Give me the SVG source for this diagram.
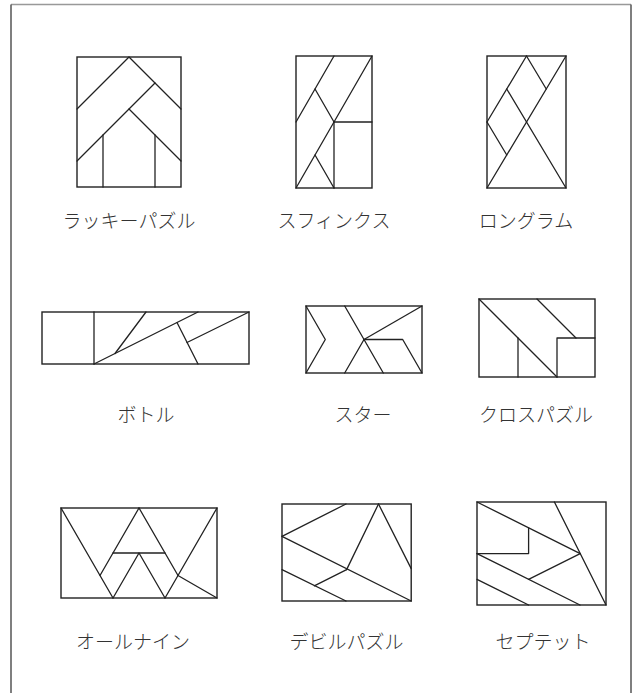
<svg xmlns="http://www.w3.org/2000/svg" width="637" height="693" viewBox="0 0 637 693">
<style>
.bg{fill:#ffffff}
.frame-top{stroke:#999999;stroke-width:1.5;fill:none}
.frame-side{stroke:#555555;stroke-width:1.5;fill:none}
.box{fill:none;stroke:#222222;stroke-width:1.4}
.ln{fill:none;stroke:#222222;stroke-width:1.3;stroke-linecap:round;stroke-linejoin:round}
.lbl{font-family:"Noto Sans CJK JP","Noto Sans CJK SC",sans-serif;font-weight:300;font-size:19px;fill:#333333;text-anchor:middle}
</style>
<rect class="bg" x="0" y="0" width="637" height="693"/>
<g id="frame">
<line class="frame-top" x1="11" y1="4.5" x2="631" y2="4.5"/>
<line class="frame-side" x1="11" y1="4.5" x2="11" y2="693"/>
<line class="frame-side" x1="631" y1="4.5" x2="631" y2="693"/>
</g>

<g id="lucky">
<rect class="box" x="77" y="57" width="104" height="130"/>
<polyline class="ln" points="77,109 129,57 181,109"/>
<polyline class="ln" points="77,161 155,83"/>
<polyline class="ln" points="129,109 181,161"/>
<line class="ln" x1="103" y1="135" x2="103" y2="187"/>
<line class="ln" x1="155" y1="135" x2="155" y2="187"/>
<text class="lbl" x="129" y="228">ラッキーパズル</text>
</g>

<g id="sphinx">
<rect class="box" x="296" y="56" width="76" height="132"/>
<line class="ln" x1="334" y1="56" x2="296" y2="122"/>
<line class="ln" x1="372" y1="56" x2="296" y2="188"/>
<line class="ln" x1="315" y1="89" x2="334" y2="122"/>
<line class="ln" x1="315" y1="155" x2="334" y2="188"/>
<line class="ln" x1="334" y1="122" x2="372" y2="122"/>
<line class="ln" x1="334" y1="122" x2="334" y2="188"/>
<text class="lbl" x="334" y="228">スフィンクス</text>
</g>

<g id="longram">
<rect class="box" x="487" y="56" width="79" height="132"/>
<line class="ln" x1="526.5" y1="56" x2="487" y2="122"/>
<line class="ln" x1="526.5" y1="56" x2="546.25" y2="89"/>
<line class="ln" x1="566" y1="56" x2="487" y2="188"/>
<line class="ln" x1="506.75" y1="89" x2="566" y2="188"/>
<line class="ln" x1="487" y1="122" x2="506.75" y2="155"/>
<text class="lbl" x="526" y="228">ロングラム</text>
</g>

<g id="bottle">
<rect class="box" x="42" y="312" width="207" height="52"/>
<line class="ln" x1="94" y1="312" x2="94" y2="364"/>
<line class="ln" x1="94" y1="364" x2="198" y2="312"/>
<line class="ln" x1="115" y1="353.5" x2="146" y2="312"/>
<line class="ln" x1="177" y1="322.5" x2="198" y2="364"/>
<line class="ln" x1="187" y1="342.5" x2="249" y2="312"/>
<text class="lbl" x="146" y="422">ボトル</text>
</g>

<g id="star">
<rect class="box" x="306" y="306" width="116" height="67"/>
<polyline class="ln" points="306,306 325.3,339.5 306,373"/>
<line class="ln" x1="344.7" y1="306" x2="383.3" y2="373"/>
<line class="ln" x1="364" y1="339.5" x2="422" y2="306"/>
<line class="ln" x1="364" y1="339.5" x2="344.7" y2="373"/>
<polyline class="ln" points="364,339.5 402.7,339.5 422,373"/>
<text class="lbl" x="363" y="422">スター</text>
</g>

<g id="cross">
<rect class="box" x="479" y="299" width="116" height="78"/>
<line class="ln" x1="479" y1="299" x2="557" y2="377"/>
<line class="ln" x1="518" y1="338" x2="518" y2="377"/>
<polyline class="ln" points="557,377 557,338 595,338"/>
<line class="ln" x1="537" y1="299" x2="576" y2="338"/>
<text class="lbl" x="536" y="422">クロスパズル</text>
</g>

<g id="allnine">
<rect class="box" x="61" y="508" width="156" height="90"/>
<line class="ln" x1="61" y1="508" x2="113" y2="598"/>
<line class="ln" x1="139" y1="508" x2="100" y2="575.5"/>
<line class="ln" x1="139" y1="508" x2="178" y2="575.5"/>
<line class="ln" x1="217" y1="508" x2="165" y2="598"/>
<line class="ln" x1="113" y1="553" x2="165" y2="553"/>
<polyline class="ln" points="113,598 139,553 165,598"/>
<line class="ln" x1="178" y1="575.5" x2="217" y2="598"/>
<text class="lbl" x="133" y="649">オールナイン</text>
</g>

<g id="devil">
<rect class="box" x="282" y="504" width="129.2" height="97"/>
<line class="ln" x1="346" y1="504" x2="282" y2="536.3"/>
<line class="ln" x1="282" y1="536.3" x2="411.2" y2="601"/>
<line class="ln" x1="378.5" y1="504" x2="411.2" y2="568.6"/>
<line class="ln" x1="378.5" y1="504" x2="346.6" y2="569.6"/>
<line class="ln" x1="346.6" y1="569.6" x2="314.3" y2="585.8"/>
<line class="ln" x1="282" y1="569.6" x2="346" y2="601"/>
<text class="lbl" x="346.5" y="649">デビルパズル</text>
</g>

<g id="septet">
<rect class="box" x="477" y="502" width="129" height="103"/>
<line class="ln" x1="477" y1="502" x2="580.2" y2="553.6"/>
<line class="ln" x1="554.4" y1="502" x2="606" y2="605"/>
<polyline class="ln" points="528.6,527.8 528.6,553.6 477,553.6"/>
<line class="ln" x1="477" y1="553.6" x2="580" y2="605"/>
<line class="ln" x1="580.2" y1="553.6" x2="528.6" y2="579.4"/>
<line class="ln" x1="477" y1="579.4" x2="528.6" y2="605"/>
<text class="lbl" x="543" y="649">セプテット</text>
</g>
</svg>
